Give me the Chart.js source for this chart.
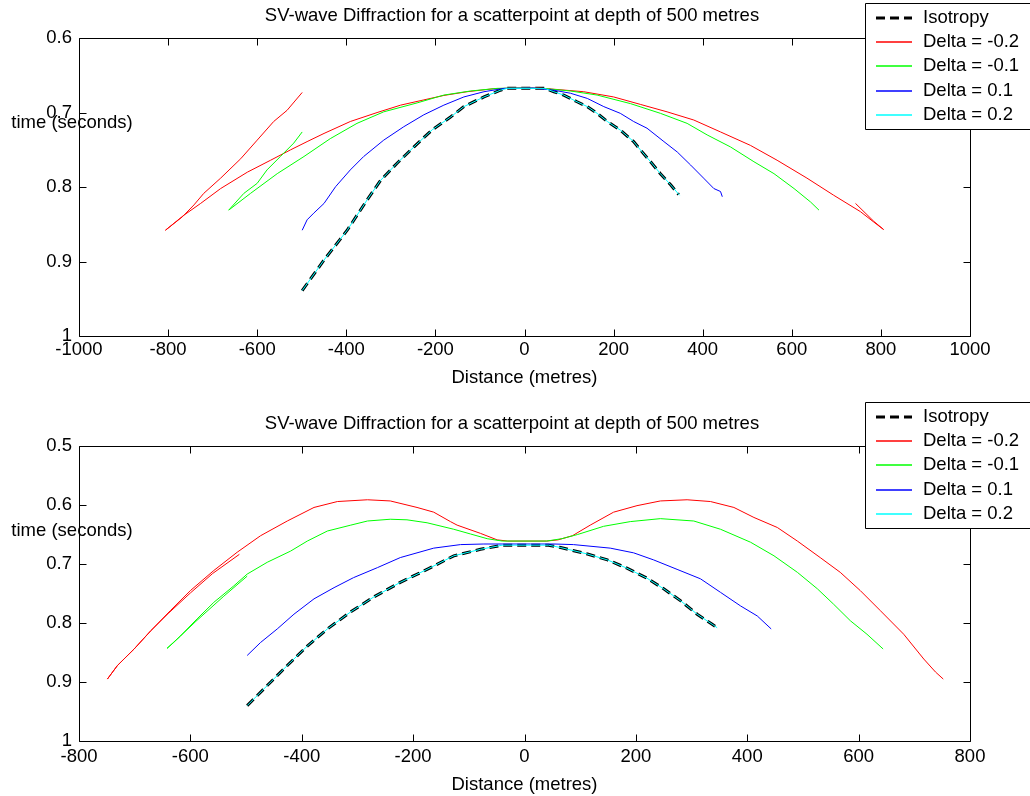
<!DOCTYPE html>
<html>
<head>
<meta charset="utf-8">
<title>SV-wave Diffraction</title>
<script src="https://cdn.jsdelivr.net/npm/chart.js@4.4.0/dist/chart.umd.min.js"></script>
<style>
  html, body { margin: 0; padding: 0; background: #fff; }
  canvas { position: absolute; left: 0; display: block; }
  #top { top: 0; }
  #bottom { top: 395px; }
</style>
</head>
<body>
<canvas id="top" width="1030" height="395"></canvas>
<canvas id="bottom" width="1030" height="401"></canvas>
<script>
// series names, same in both plots
var seriesLabels = ['Isotropy', 'Delta = -0.2', 'Delta = -0.1', 'Delta = 0.1', 'Delta = 0.2'];
var plotTitle = 'SV-wave Diffraction for a scatterpoint at depth of 500 metres';

// tick labels
var topXTicks = [-1000, -800, -600, -400, -200, 0, 200, 400, 600, 800, 1000];
var topYTicks = [0.6, 0.7, 0.8, 0.9, 1];
var bottomXTicks = [-800, -600, -400, -200, 0, 200, 400, 600, 800];
var bottomYTicks = [0.5, 0.6, 0.7, 0.8, 0.9, 1];

// top plot: [distance (m), time (s)]
var topIsotropy = [[-499,0.939],[-450,0.898],[-398,0.858],[-353,0.817],[-323,0.791],[-286,0.768],[-248,0.746],
  [-207,0.723],[-166,0.706],[-136,0.692],[-91,0.679],[-54,0.670],[-39,0.6675],[13,0.6675],[45,0.6675],[66,0.672],
  [88,0.6765],[118,0.6855],[141,0.692],[163,0.701],[186,0.712],[215,0.7235],[245,0.739],[260,0.750],[283,0.766],
  [305,0.782],[328,0.797],[346,0.810]];
var topDeltaM02 = [[-499,0.673],[-533,0.697],[-563,0.712],[-600,0.737],[-637,0.762],[-682,0.788],[-720,0.8085],
  [-742,0.824],[-768,0.840],[-806,0.858],[-765,0.838],[-727,0.822],[-682,0.802],[-622,0.780],[-570,0.764],
  [-525,0.750],[-488,0.739],[-450,0.728],[-391,0.712],[-331,0.700],[-278,0.690],[-226,0.683],[-181,0.677],
  [-129,0.672],[-69,0.668],[-20,0.667],[30,0.667],[73,0.669],[133,0.672],[200,0.679],[260,0.689],[320,0.699],
  [380,0.710],[440,0.726],[507,0.744],[567,0.764],[634,0.788],[694,0.811],[754,0.833],[784,0.847],[806,0.857],
  [784,0.846],[743,0.822]];
var topDeltaM01 = [[-499,0.726],[-518,0.741],[-548,0.759],[-578,0.777],[-600,0.795],[-630,0.8085],[-664,0.831],
  [-615,0.8085],[-555,0.782],[-495,0.759],[-436,0.735],[-376,0.7145],[-316,0.699],[-241,0.687],[-181,0.6765],
  [-121,0.671],[-61,0.6675],[0,0.667],[50,0.668],[103,0.671],[163,0.6765],[238,0.688],[305,0.701],[365,0.7145],
  [410,0.730],[462,0.746],[515,0.766],[560,0.782],[605,0.802],[642,0.820],[661,0.831]];
var topDeltaP01 = [[-499,0.858],[-488,0.844],[-473,0.835],[-450,0.822],[-424,0.7995],[-391,0.777],[-361,0.759],
  [-316,0.737],[-271,0.719],[-226,0.703],[-181,0.690],[-136,0.679],[-91,0.672],[-46,0.6675],[20,0.667],[66,0.670],
  [103,0.674],[141,0.681],[178,0.692],[215,0.701],[245,0.712],[275,0.721],[313,0.739],[343,0.753],[373,0.7705],
  [402,0.788],[425,0.802],[440,0.806],[444,0.813]];
var topDeltaP02 = [[-499,0.939],[-450,0.898],[-398,0.858],[-353,0.817],[-323,0.791],[-286,0.768],[-248,0.746],
  [-207,0.723],[-166,0.706],[-136,0.692],[-91,0.679],[-54,0.670],[-39,0.6675],[13,0.6675],[45,0.6675],[66,0.672],
  [88,0.6765],[118,0.6855],[141,0.692],[163,0.701],[186,0.712],[215,0.7235],[245,0.739],[260,0.750],[283,0.766],
  [305,0.782],[328,0.797],[348,0.811]];

// bottom plot
var bottomIsotropy = [[-498,0.940],[-462,0.906],[-426,0.872],[-390,0.839],[-354,0.810],[-312,0.781],[-271,0.756],
  [-223,0.731],[-175,0.709],[-127,0.686],[-79,0.675],[-40,0.668],[11,0.668],[43,0.668],[65,0.672],[113,0.683],
  [149,0.693],[184,0.707],[220,0.724],[250,0.742],[280,0.762],[310,0.785],[337,0.802],[343,0.806]];
var bottomDeltaM02 = [[-512,0.6835],[-560,0.716],[-600,0.749],[-640,0.784],[-671,0.813],[-701,0.844],[-731,0.872],
  [-749,0.895],[-731,0.872],[-701,0.844],[-671,0.813],[-636,0.779],[-600,0.745],[-558,0.711],[-516,0.680],
  [-474,0.652],[-426,0.627],[-378,0.604],[-336,0.594],[-282,0.591],[-241,0.593],[-193,0.604],[-163,0.612],
  [-133,0.628],[-121,0.634],[-79,0.648],[-49,0.659],[-30,0.661],[40,0.661],[60,0.659],[86,0.652],[118,0.634],
  [160,0.612],[202,0.601],[244,0.593],[292,0.591],[334,0.594],[376,0.604],[412,0.621],[454,0.638],[490,0.661],
  [531,0.689],[567,0.714],[603,0.745],[639,0.779],[681,0.819],[717,0.861],[738,0.883],[752,0.895]];
var bottomDeltaM01 = [[-498,0.7205],[-540,0.7545],[-590,0.797],[-630,0.833],[-642,0.843],[-618,0.822],[-588,0.793],
  [-558,0.765],[-522,0.737],[-498,0.717],[-462,0.697],[-420,0.678],[-390,0.661],[-354,0.644],[-312,0.634],
  [-282,0.627],[-241,0.624],[-211,0.625],[-175,0.630],[-127,0.641],[-97,0.649],[-67,0.657],[-40,0.661],[40,0.661],
  [67,0.657],[95,0.650],[142,0.636],[190,0.628],[244,0.623],[304,0.627],[352,0.641],[406,0.663],[448,0.686],
  [490,0.714],[526,0.742],[555,0.768],[585,0.796],[615,0.819],[644,0.844]];
var bottomDeltaP01 = [[-498,0.855],[-474,0.833],[-444,0.810],[-414,0.785],[-378,0.759],[-342,0.740],[-307,0.723],
  [-264,0.706],[-223,0.689],[-163,0.673],[-115,0.667],[-73,0.666],[11,0.666],[53,0.666],[88,0.667],[154,0.673],
  [196,0.681],[232,0.693],[274,0.709],[316,0.725],[352,0.748],[388,0.771],[418,0.788],[443,0.810]];
var bottomDeltaP02 = [[-498,0.940],[-462,0.906],[-426,0.872],[-390,0.839],[-354,0.810],[-312,0.781],[-271,0.756],
  [-223,0.731],[-175,0.709],[-127,0.686],[-79,0.675],[-40,0.668],[11,0.668],[43,0.668],[65,0.672],[113,0.683],
  [149,0.693],[184,0.707],[220,0.724],[250,0.742],[280,0.762],[310,0.785],[337,0.802],[346,0.808]];

var FONT = '"Liberation Sans", Arial, sans-serif';
Chart.defaults.font.family = FONT;
Chart.defaults.font.size = 18.5;
Chart.defaults.color = '#000';

// line look per series (isotropy sits under the cyan line)
var looks = [
  {color: '#000000', width: 3, dash: [9, 5], order: 5},
  {color: '#ff0000', width: 1, dash: [], order: 3},
  {color: '#00ff00', width: 1, dash: [], order: 2},
  {color: '#0000ff', width: 1, dash: [], order: 1},
  {color: '#00ffff', width: 1, dash: [], order: 0}
];

function makeDataset(i, pts) {
  return {
    label: seriesLabels[i],
    data: pts.map(function (p) { return {x: p[0], y: p[1]}; }),
    showLine: true,
    borderColor: looks[i].color,
    backgroundColor: looks[i].color,
    borderWidth: looks[i].width,
    borderDash: looks[i].dash,
    pointRadius: 0,
    tension: 0,
    fill: false,
    order: looks[i].order
  };
}

function crisp(v) { return Math.round(v) + 0.5; }

// matlab style box: frame, inward ticks, horizontal ylabel, boxed legend
var boxPlugin = {
  id: 'box',
  afterDatasetsDraw: function (chart, args, opts) {
    var ctx = chart.ctx, a = chart.chartArea;
    var xs = chart.scales.x, ys = chart.scales.y;
    var L = crisp(a.left), R = crisp(a.right), T = crisp(a.top), B = crisp(a.bottom);
    ctx.save();
    ctx.strokeStyle = '#000';
    ctx.lineWidth = 1;
    ctx.setLineDash([]);
    ctx.beginPath();
    ctx.rect(L, T, R - L, B - T);
    xs.ticks.forEach(function (t) {
      var p = crisp(xs.getPixelForValue(t.value));
      ctx.moveTo(p, T); ctx.lineTo(p, T + 7);
      ctx.moveTo(p, B); ctx.lineTo(p, B - 7);
    });
    ys.ticks.forEach(function (t) {
      var p = crisp(ys.getPixelForValue(t.value));
      ctx.moveTo(L, p); ctx.lineTo(L + 7, p);
      ctx.moveTo(R, p); ctx.lineTo(R - 7, p);
    });
    ctx.stroke();

    ctx.fillStyle = '#000';
    ctx.font = '18.5px ' + FONT;
    ctx.textAlign = 'center';
    ctx.textBaseline = 'middle';
    ctx.fillText('time (seconds)', 72, a.top + 85);

    // legend
    var top = opts.legendTop, h = 126;
    ctx.fillStyle = '#fff';
    ctx.fillRect(865, top, 200, h);
    ctx.beginPath();
    ctx.rect(865.5, top + 0.5, 200, h);
    ctx.stroke();
    ctx.textAlign = 'left';
    chart.data.datasets.forEach(function (ds, i) {
      var y = Math.round(top + 15 + i * 24.2);
      ctx.strokeStyle = ds.borderColor;
      ctx.lineWidth = ds.borderWidth === 1 ? 1.6 : ds.borderWidth;
      ctx.setLineDash(ds.borderDash);
      ctx.beginPath();
      ctx.moveTo(876, y);
      ctx.lineTo(912, y);
      ctx.stroke();
      ctx.setLineDash([]);
      ctx.fillStyle = '#000';
      ctx.fillText(ds.label, 923, y);
    });
    ctx.restore();
  }
};

function makeChart(id, cfg) {
  return new Chart(document.getElementById(id), {
    type: 'scatter',
    data: {datasets: cfg.series.map(function (pts, i) { return makeDataset(i, pts); })},
    options: {
      responsive: false,
      animation: false,
      devicePixelRatio: 1,
      layout: {padding: {left: 0, right: 6, top: 0, bottom: cfg.bottomPad}},
      plugins: {
        legend: {display: false},
        tooltip: {enabled: false},
        title: {
          display: true,
          text: plotTitle,
          color: '#000',
          font: {size: 18.5, weight: 'normal'},
          padding: {top: cfg.titleTop, bottom: cfg.titleBottom}
        },
        box: {legendTop: cfg.legendTop}
      },
      scales: {
        x: {
          type: 'linear',
          position: 'bottom',
          min: cfg.xTicks[0],
          max: cfg.xTicks[cfg.xTicks.length - 1],
          grid: {display: false, drawTicks: false},
          border: {display: false},
          afterBuildTicks: function (s) { s.ticks = cfg.xTicks.map(function (v) { return {value: v}; }); },
          afterFit: function (s) { s.height = 55; },
          ticks: {padding: cfg.xTickPad, maxRotation: 0, autoSkip: false, color: '#000',
            callback: function (v) { return String(v); }},
          title: {display: true, text: 'Distance (metres)', color: '#000',
            font: {size: 18.5}, padding: {top: 0, bottom: cfg.xTitlePad}}
        },
        y: {
          type: 'linear',
          position: 'left',
          reverse: true,
          min: cfg.yTicks[0],
          max: cfg.yTicks[cfg.yTicks.length - 1],
          grid: {display: false, drawTicks: false},
          border: {display: false},
          afterBuildTicks: function (s) { s.ticks = cfg.yTicks.map(function (v) { return {value: v}; }); },
          afterFit: function (s) { s.width = 79; },
          ticks: {padding: 7, autoSkip: false, color: '#000',
            callback: function (v) { return String(Math.round(v * 10) / 10); }}
        },
        // empty right-hand axis: keeps the plot box narrower than the title line
        yRight: {
          type: 'linear',
          position: 'right',
          grid: {display: false, drawTicks: false},
          border: {display: false},
          ticks: {display: false},
          afterFit: function (s) { s.width = 54; }
        }
      }
    },
    plugins: [boxPlugin]
  });
}

makeChart('top', {
  series: [topIsotropy, topDeltaM02, topDeltaM01, topDeltaP01, topDeltaP02],
  xTicks: topXTicks, yTicks: topYTicks,
  titleTop: 4.9, titleBottom: 11, bottomPad: 4, xTickPad: 3, xTitlePad: 2.2, legendTop: 3
});

makeChart('bottom', {
  series: [bottomIsotropy, bottomDeltaM02, bottomDeltaM01, bottomDeltaP01, bottomDeltaP02],
  xTicks: bottomXTicks, yTicks: bottomYTicks,
  titleTop: 17.9, titleBottom: 11, bottomPad: 0, xTickPad: 5, xTitlePad: 0.2, legendTop: 7
});
</script>
</body>
</html>
